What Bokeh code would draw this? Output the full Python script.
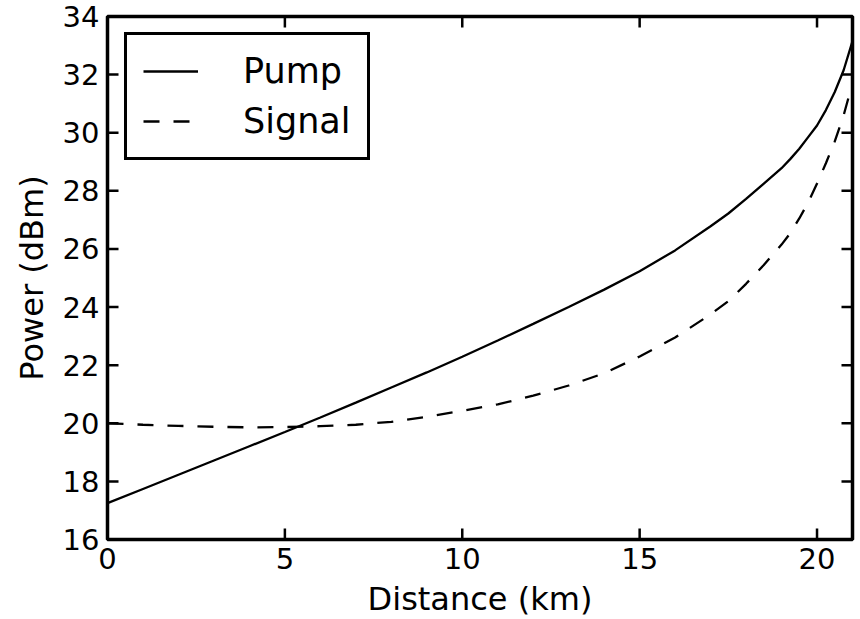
from bokeh.plotting import figure
from bokeh.models import Range1d, FixedTicker, Legend, LegendItem
from bokeh.embed import file_html
from bokeh.resources import INLINE

# Data
distance = [0, 1, 2, 3, 4, 5, 6, 7, 8, 9, 10, 11, 12, 13, 14, 15, 16, 17,
            17.5, 18, 18.5, 19, 19.25, 19.5, 19.75, 20, 20.25, 20.5, 20.75, 21]
pump = [17.25, 17.74, 18.23, 18.72, 19.21, 19.70, 20.20, 20.71, 21.23, 21.75,
        22.29, 22.85, 23.42, 24.00, 24.60, 25.23, 25.95, 26.78,
        27.22, 27.72, 28.25, 28.78, 29.10, 29.45, 29.85, 30.25, 30.78, 31.40, 32.15, 33.15]
signal = [20.0, 19.95, 19.91, 19.88, 19.86, 19.87, 19.90, 19.95, 20.05, 20.22,
          20.43, 20.65, 20.95, 21.30, 21.72, 22.30, 22.95, 23.75,
          24.20, 24.80, 25.45, 26.15, 26.55, 27.05, 27.60, 28.25, 28.95, 29.70, 30.60, 31.70]
x_ticks = [0, 5, 10, 15, 20]
y_ticks = [16, 18, 20, 22, 24, 26, 28, 30, 32, 34]
series_names = ["Pump", "Signal"]

FONT = "DejaVu Sans"
X0, X1, Y0, Y1 = 0, 21, 16, 34
FW, FH = 745, 523
TICK_PX = 11

p = figure(frame_width=FW, frame_height=FH,
           x_range=Range1d(X0, X1), y_range=Range1d(Y0, Y1),
           output_backend="svg", toolbar_location=None,
           min_border_left=107, min_border_right=8,
           min_border_top=16, min_border_bottom=80,
           x_axis_label="Distance (km)", y_axis_label="Power (dBm)")

p.xgrid.visible = False
p.ygrid.visible = False
p.outline_line_color = "black"
p.outline_line_width = 3.5
p.background_fill_color = "white"
p.border_fill_color = "white"

for ax, ticks in ((p.xaxis[0], x_ticks), (p.yaxis[0], y_ticks)):
    ax.ticker = FixedTicker(ticks=ticks)
    ax.axis_line_color = None
    ax.major_tick_in = 0
    ax.major_tick_out = 0
    ax.minor_tick_line_color = None
    ax.major_label_text_font = FONT
    ax.major_label_text_font_size = "29px"
    ax.major_label_text_color = "black"
    ax.axis_label_text_font = FONT
    ax.axis_label_text_font_size = "32px"
    ax.axis_label_text_font_style = "normal"
    ax.axis_label_text_color = "black"

p.xaxis[0].major_label_standoff = 8
p.xaxis[0].axis_label_standoff = 8
p.yaxis[0].major_label_standoff = 8
p.yaxis[0].axis_label_standoff = 9

# inward tick marks on all four sides as thin filled bars centred on the frame edge
nx, ny = len(x_ticks), len(y_ticks)
bar = dict(fill_color="black", line_color=None)
p.rect(x=x_ticks + x_ticks, y=[Y0] * nx + [Y1] * nx,
       width=2.5, height=2 * TICK_PX, width_units="screen", height_units="screen", **bar)
p.rect(x=[X0] * ny + [X1] * ny, y=y_ticks + y_ticks,
       width=2 * TICK_PX, height=2.5, width_units="screen", height_units="screen", **bar)

r_pump = p.line(distance, pump, line_color="black", line_width=2.3)
r_signal = p.line(distance, signal, line_color="black", line_width=2.3,
                  line_dash="16 14")

legend = Legend(items=[LegendItem(label=series_names[0], renderers=[r_pump]),
                       LegendItem(label=series_names[1], renderers=[r_signal])],
                location=(17, 379), margin=0)
legend.label_text_font = FONT
legend.label_text_font_size = "35px"
legend.label_text_color = "black"
legend.border_line_color = "black"
legend.border_line_width = 3
legend.border_line_alpha = 1
legend.background_fill_color = "white"
legend.background_fill_alpha = 1
legend.padding = 16
legend.spacing = 10
legend.glyph_width = 55
legend.glyph_height = 38
legend.label_height = 38
legend.label_standoff = 45
p.add_layout(legend, "center")

open("out.html", "w").write(file_html(p, INLINE))
